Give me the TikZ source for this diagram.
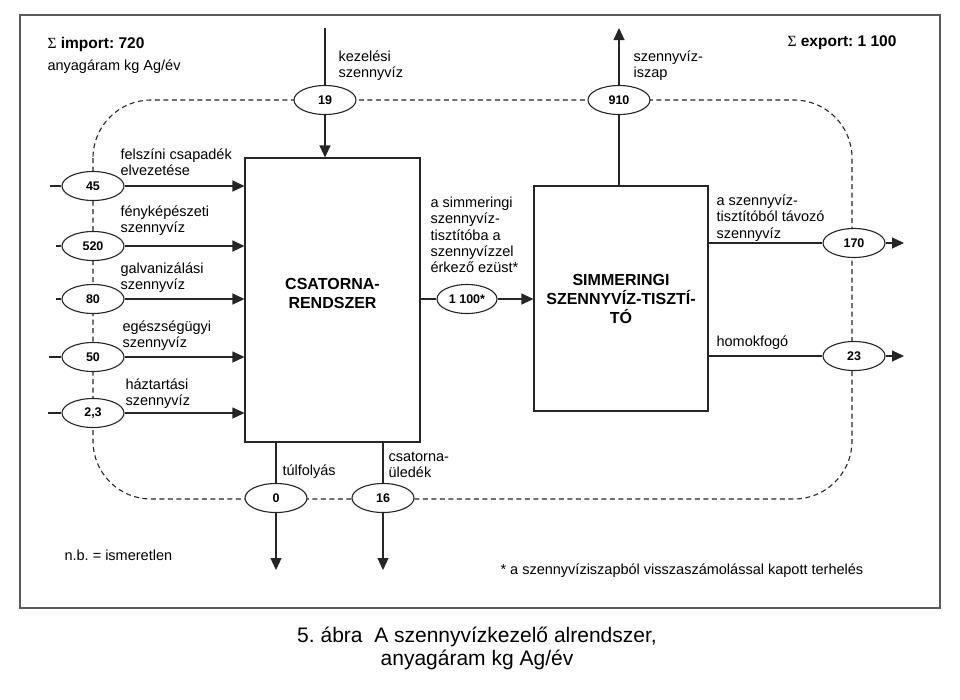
\documentclass[tikz,border=0pt]{standalone}
\usepackage{fontspec}
\setmainfont{Liberation Sans}
\newfontfamily\sigmafont{Liberation Serif}
\usetikzlibrary{shapes.geometric,arrows.meta}
\frenchspacing
\begin{document}
\begin{tikzpicture}[x=1pt,y=-1pt,
  line width=1.1pt, draw=black!85,
  flow/.style={draw=black!85, line width=1.1pt},
  arr/.style={flow, -{Triangle[length=12pt,width=11pt]}},
  loop/.style={draw=black!85, line width=1.1pt, dash pattern=on 5pt off 3.5pt},
  val/.style={ellipse, draw=black!85, line width=1.1pt, fill=white, minimum width=62pt, minimum height=29pt, inner sep=0pt, font=\fontsize{12.5}{14}\selectfont\bfseries},
  blk/.style={rectangle, draw=black!85, line width=1.1pt, fill=white, inner sep=0pt},
  lbl/.style={anchor=west, align=left, inner sep=0pt, font=\fontsize{14.5}{16.3}\selectfont},
  title/.style={align=center, inner sep=0pt, font=\fontsize{16}{19}\selectfont\bfseries}
]
\useasboundingbox (0,0) rectangle (960,699);
% frame
\draw[draw=black!65, line width=1.6pt] (20,15) rectangle (940,608);

% dashed balance boundary
\draw[loop, rounded corners=58pt] (93,100) rectangle (852,499);

% boxes
\node[blk, minimum width=175pt, minimum height=284pt] (csat) at (332.5,300) {};
\node[title] (csattxt) at (332.5,293) {CSATORNA-\\RENDSZER};
\node[blk, minimum width=174pt, minimum height=225pt, title] (simm) at (621,298.5) {SIMMERINGI\\SZENNYVÍZ-TISZTÍ-\\TÓ};

% value ellipses
\node[val] (e19) at (325,100) {19};
\node[val] (e910) at (619,100) {910};
\node[val] (e45) at (93,186) {45};
\node[val] (e520) at (93,246) {520};
\node[val] (e80) at (93,299) {80};
\node[val] (e50) at (93,357) {50};
\node[val] (e23a) at (93,413) {2,3};
\node[val, minimum width=60pt] (e1100) at (467,299) {1 100*};
\node[val] (e170) at (854,243) {170};
\node[val] (e23) at (854,356) {23};
\node[val] (e0) at (276,498) {0};
\node[val] (e16) at (383,498) {16};

% free ends
\coordinate (topin) at (325,28);
\coordinate (topout) at (619,28);
\coordinate (s45) at (50,186);
\coordinate (s520) at (56,246);
\coordinate (s80) at (56,299);
\coordinate (s50) at (49,357);
\coordinate (s23a) at (48,413);
\coordinate (o170) at (904,243);
\coordinate (o23) at (904,356);
\coordinate (b0) at (276,570);
\coordinate (b16) at (383,570);

% top inflow
\draw[flow] (topin) -- (e19);
\draw[arr] (e19) -- (e19 |- csat.north);
% sludge outflow
\draw[flow] (simm.north -| e910) -- (e910);
\draw[arr] (e910) -- (topout);

% left inflows
\foreach \e/\s in {e45/s45, e520/s520, e80/s80, e50/s50, e23a/s23a}{
  \draw[flow] (\s) -- (\e);
  \draw[arr] (\e) -- (\e -| csat.west);
}

% sewer to plant
\draw[flow] (csat.east |- e1100) -- (e1100);
\draw[arr] (e1100) -- (e1100 -| simm.west);

% right outflows
\draw[flow] (simm.east |- e170) -- (e170);
\draw[arr] (e170) -- (o170);
\draw[flow] (simm.east |- e23) -- (e23);
\draw[arr] (e23) -- (o23);

% bottom outflows
\draw[flow] (csat.south -| e0) -- (e0);
\draw[arr] (e0) -- (b0);
\draw[flow] (csat.south -| e16) -- (e16);
\draw[arr] (e16) -- (b16);

% labels
\node[anchor=west, inner sep=0pt, font=\fontsize{15.5}{18}\selectfont\bfseries] (imp) at (47,44) {{\sigmafont\mdseries Σ} import: 720};
\node[lbl] (unit) at (47,67) {anyagáram kg Ag/év};
\node[anchor=east, inner sep=0pt, font=\fontsize{15.5}{18}\selectfont\bfseries] (exp) at (897,43) {{\sigmafont\mdseries Σ} export: 1 100};

\node[lbl] (lkez) at (338,66) {kezelési\\szennyvíz};
\node[lbl] (liszap) at (633,66) {szennyvíz-\\iszap};
\node[lbl] (l45) at (120,162.5) {felszíni csapadék\\elvezetése};
\node[lbl] (l520) at (120,221) {fényképészeti\\szennyvíz};
\node[lbl] (l80) at (120,278) {galvanizálási\\szennyvíz};
\node[lbl] (l50) at (122,335.5) {egészségügyi\\szennyvíz};
\node[lbl] (l23a) at (125,393.5) {háztartási\\szennyvíz};
\node[lbl] (l1100) at (430,235) {a simmeringi\\szennyvíz-\\tisztítóba a\\szennyvízzel\\érkező ezüst*};
\node[lbl] (l170) at (716,218) {a szennyvíz-\\tisztítóból távozó\\szennyvíz};
\node[lbl] (l23) at (716,343) {homokfogó};
\node[lbl] (l0) at (282,472) {túlfolyás};
\node[lbl] (l16) at (388,465) {csatorna-\\üledék};
\node[lbl] (lnb) at (64,555) {n.b. = ismeretlen};
\node[lbl] (lfoot) at (500,571) {* a szennyvíziszapból visszaszámolással kapott terhelés};

% caption
\node[align=center, inner sep=0pt, font=\fontsize{21}{23}\selectfont] (cap) at (477,648.5) {5. ábra\ \ A szennyvízkezelő alrendszer,\\anyagáram kg Ag/év};
\end{tikzpicture}
\end{document}
